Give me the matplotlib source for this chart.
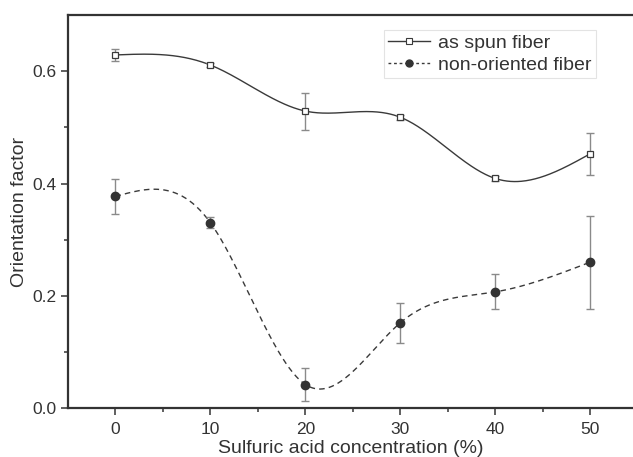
import matplotlib
matplotlib.use("Agg")
import matplotlib.pyplot as plt
import numpy as np

conc = [0, 10, 20, 30, 40, 50]
spun = [0.629, 0.611, 0.529, 0.518, 0.409, 0.453]
spun_err = [0.010, 0.004, 0.033, 0.004, 0.004, 0.037]
nonor = [0.377, 0.330, 0.042, 0.152, 0.207, 0.260]
nonor_err = [0.031, 0.010, 0.029, 0.036, 0.031, 0.083]

x_ticks = [0, 10, 20, 30, 40, 50]
y_ticks = [0.0, 0.2, 0.4, 0.6]


def natural_spline(x, y, n=400):
    # natural cubic spline through the data points, for the smoothed line
    x = np.asarray(x, float)
    y = np.asarray(y, float)
    k = len(x)
    h = np.diff(x)
    A = np.zeros((k, k))
    b = np.zeros(k)
    A[0, 0] = A[-1, -1] = 1.0
    for i in range(1, k - 1):
        A[i, i - 1] = h[i - 1]
        A[i, i] = 2 * (h[i - 1] + h[i])
        A[i, i + 1] = h[i]
        b[i] = 3 * ((y[i + 1] - y[i]) / h[i] - (y[i] - y[i - 1]) / h[i - 1])
    c = np.linalg.solve(A, b)
    xs = np.linspace(x[0], x[-1], n)
    idx = np.clip(np.searchsorted(x, xs) - 1, 0, k - 2)
    dx = xs - x[idx]
    hi = h[idx]
    bi = (y[idx + 1] - y[idx]) / hi - hi * (2 * c[idx] + c[idx + 1]) / 3
    di = (c[idx + 1] - c[idx]) / (3 * hi)
    ys = y[idx] + bi * dx + c[idx] * dx ** 2 + di * dx ** 3
    return xs, ys


plt.rcParams["font.family"] = ["Liberation Sans", "DejaVu Sans"]
text_color = "#333333"
line_color = "#3a3a3a"
err_color = "#8a8a8a"

fig = plt.figure(figsize=(6.33, 4.57), dpi=100)
ax = fig.add_axes([0.1074, 0.107, 1 - 0.1074, 0.967 - 0.107])

xs, ys = natural_spline(conc, spun)
ax.plot(xs, ys, color=line_color, lw=1.0)
xs, ys = natural_spline(conc, nonor)
ax.plot(xs, ys, color=line_color, lw=1.0, ls=(0, (4, 3)))

ax.errorbar(conc, spun, yerr=spun_err, fmt="none", ecolor=err_color, elinewidth=1.0, capsize=3, capthick=1.0)
ax.errorbar(conc, nonor, yerr=nonor_err, fmt="none", ecolor=err_color, elinewidth=1.0, capsize=3, capthick=1.0)
ax.plot(conc, spun, ls="none", marker="s", ms=4.5, mfc="white", mec=line_color, mew=0.9)
ax.plot(conc, nonor, ls="none", marker="o", ms=6, mfc="#333333", mec="#333333")

# legend proxies
ax.plot([], [], color=line_color, lw=1.0, marker="s", ms=4, mfc="white", mec=line_color, mew=0.8, label="as spun fiber")
ax.plot([], [], color=line_color, lw=1.0, ls=(0, (2, 2)), marker="o", ms=5, mfc="#333333", mec="#333333", label="non-oriented fiber")
handles, labels = ax.get_legend_handles_labels()
leg = ax.legend(handles, labels, loc="upper left", bbox_to_anchor=(0.559, 0.962), fontsize=14,
                frameon=True, fancybox=False, edgecolor="#dddddd", handlelength=2.2,
                handletextpad=0.4, borderpad=0.2, labelspacing=0.25, borderaxespad=0,
                labelcolor=text_color)
leg.get_frame().set_linewidth(0.8)

ax.set_xlim(-5, 54.5)
ax.set_ylim(0, 0.7)
ax.set_xticks(x_ticks)
ax.set_yticks(y_ticks)
ax.set_yticklabels([f"{v:.1f}" for v in y_ticks])
ax.set_xticks([5, 15, 25, 35, 45], minor=True)
ax.set_yticks([0.1, 0.3, 0.5], minor=True)
ax.tick_params(which="major", direction="out", length=5, width=1.2, colors="#444444", labelsize=12.5, labelcolor=text_color)
ax.tick_params(axis="x", which="major", pad=5)
ax.tick_params(which="minor", direction="out", length=3, width=1.2, colors="#444444")

ax.spines["right"].set_visible(False)
for side in ("left", "bottom", "top"):
    ax.spines[side].set_linewidth(1.6)
    ax.spines[side].set_color("#333333")

ax.set_xlabel("Sulfuric acid concentration (%)", fontsize=14, color=text_color, labelpad=2)
ax.set_ylabel("Orientation factor", fontsize=14, color=text_color, labelpad=3)

fig.savefig("out.png", dpi=100)
